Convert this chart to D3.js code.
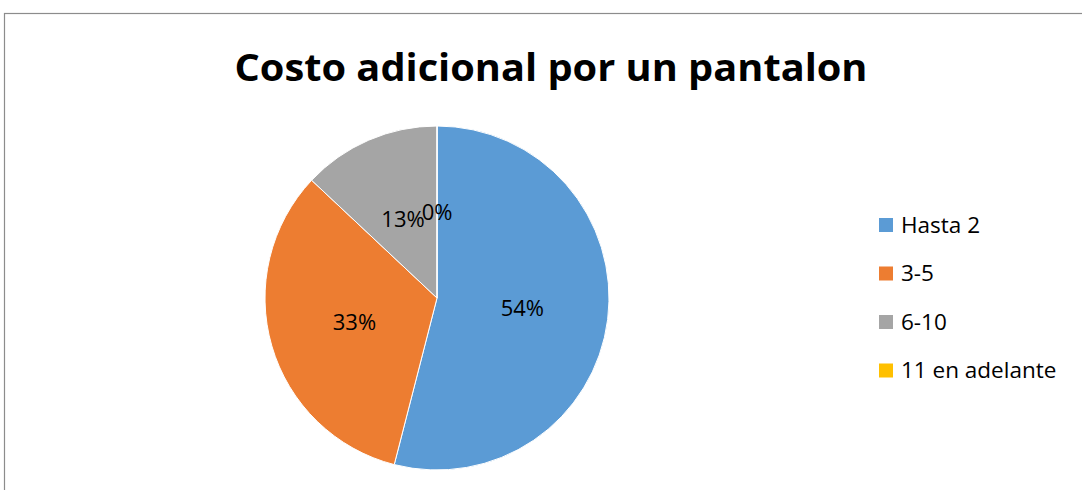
<!DOCTYPE html>
<html>
<head>
<meta charset="utf-8" />
<title>Costo adicional por un pantalon</title>
<style>
body { margin: 0; background: #fff; }
svg { display: block; }
</style>
</head>
<body>
<div id="chart"></div>
<script src="https://d3js.org/d3.v7.min.js"></script>
<script>
// data
var categories = ["Hasta 2", "3-5", "6-10", "11 en adelante"];
var values = [54, 33, 13, 0];
var colors = ["#5B9BD5", "#ED7D31", "#A5A5A5", "#FFC000"];
var title = "Costo adicional por un pantalon";

var width = 1082, height = 490;
var cx = 437, cy = 298, radius = 172;
var font = "'Open Sans', sans-serif";

var svg = d3.select("#chart").append("svg")
    .attr("width", width)
    .attr("height", height);

// chart frame (runs off the window at right and bottom)
svg.append("rect")
    .attr("x", 4.5).attr("y", 13.5)
    .attr("width", width + 20).attr("height", height + 20)
    .attr("fill", "white")
    .attr("stroke", "#8c8c8c")
    .attr("stroke-width", 1.2);

svg.append("text")
    .attr("x", 551).attr("y", 81)
    .attr("text-anchor", "middle")
    .style("font-family", font)
    .style("font-weight", "bold")
    .style("font-size", "37px")
    .attr("textLength", 633)
    .attr("lengthAdjust", "spacingAndGlyphs")
    .text(title);

var data = categories.map(function(c, i) { return { name: c, value: values[i] }; });
var color = d3.scaleOrdinal().domain(categories).range(colors);

var pie = d3.pie().value(function(d) { return d.value; }).sort(null);
var arc = d3.arc().innerRadius(0).outerRadius(radius);
var labelArc = d3.arc().innerRadius(radius * 0.5).outerRadius(radius * 0.5);

var g = svg.append("g").attr("transform", "translate(" + cx + "," + cy + ")");

var arcs = pie(data);

g.selectAll("path")
    .data(arcs)
    .enter().append("path")
    .attr("d", arc)
    .attr("fill", function(d) { return color(d.data.name); })
    .attr("stroke", "white")
    .attr("stroke-width", 1);

// percentage labels
var total = d3.sum(values);
g.selectAll("text.lbl")
    .data(arcs)
    .enter().append("text")
    .attr("class", "lbl")
    .attr("transform", function(d) {
        var c = labelArc.centroid(d);
        if (d.index === 2) c = [-34, -79];
        if (d.index === 3) c = [0, -86];
        return "translate(" + c[0] + "," + c[1] + ")";
    })
    .attr("text-anchor", "middle")
    .attr("dy", "0.35em")
    .style("font-family", font)
    .style("font-size", "22px")
    .attr("fill", "#000")
    .text(function(d) { return Math.round(d.data.value / total * 100) + "%"; });

// legend
var legend = svg.append("g").attr("transform", "translate(879,225)");
var key = legend.selectAll("g")
    .data(categories)
    .enter().append("g")
    .attr("transform", function(d, i) { return "translate(0," + (i * 48.5) + ")"; });

key.append("rect")
    .attr("x", 0).attr("y", -7)
    .attr("width", 14).attr("height", 14)
    .attr("fill", function(d) { return color(d); });

key.append("text")
    .attr("x", 22).attr("y", 0)
    .attr("dy", "0.35em")
    .style("font-family", font)
    .style("font-size", "22.5px")
    .attr("fill", "#000")
    .text(function(d) { return d; });
</script>
</body>
</html>
